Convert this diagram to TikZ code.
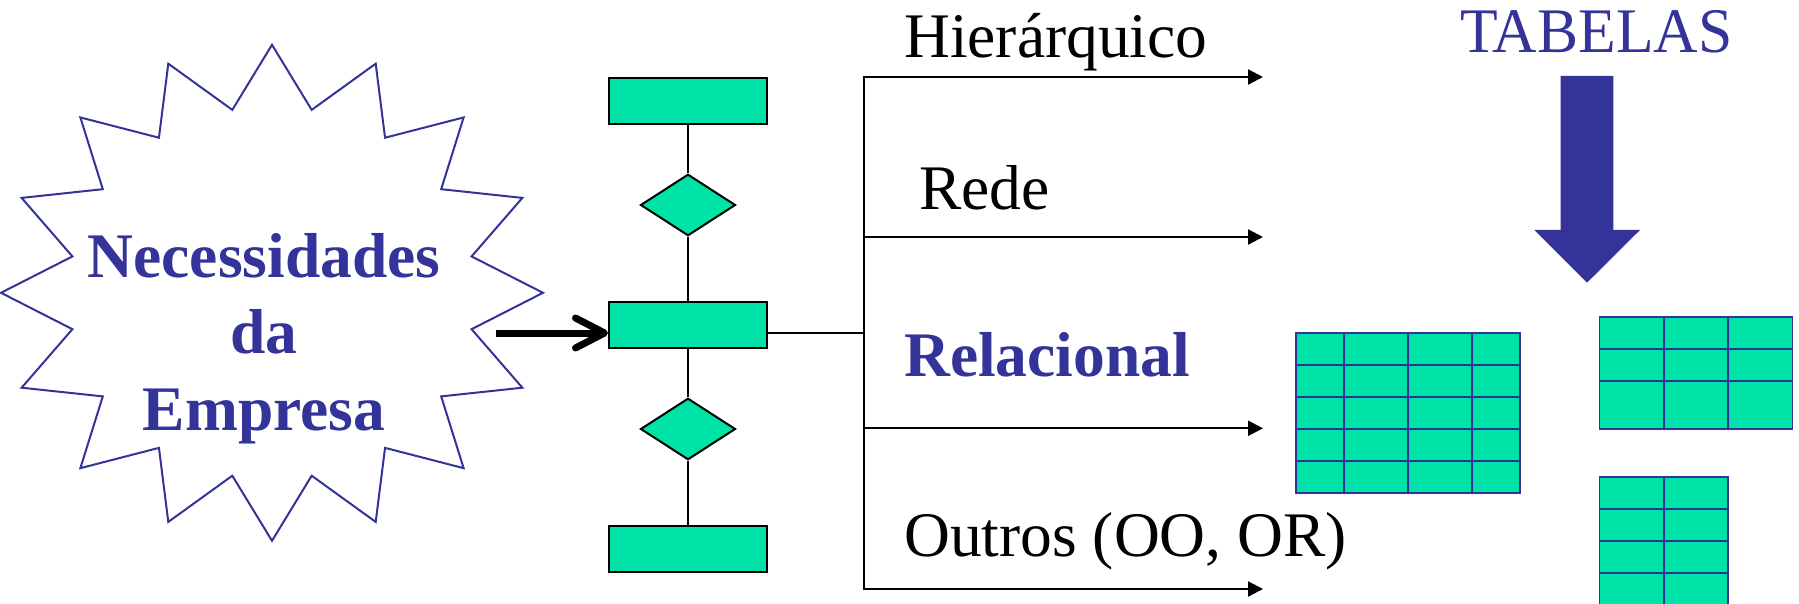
\documentclass[tikz,border=0pt]{standalone}
\usepackage{fontspec}
\setmainfont{Liberation Serif}
\usepackage{graphicx}
\usetikzlibrary{arrows.meta,shapes.geometric}
\definecolor{ergreen}{HTML}{00E3A8}
\definecolor{navy}{HTML}{333399}
\begin{document}
\begin{tikzpicture}[x=1pt,y=-1pt,
  txt/.style={inner sep=0pt, anchor=base west, font=\fontsize{63.5}{76}\selectfont},
  startxt/.style={inner sep=0pt, anchor=base, text=navy, font=\fontsize{63.5}{76}\selectfont\bfseries},
  entity/.style={draw=black, line width=2pt, fill=ergreen, minimum width=158pt, minimum height=46pt, inner sep=0pt},
  relation/.style={diamond, draw=black, line width=2pt, fill=ergreen, minimum width=95pt, minimum height=61.5pt, inner sep=0pt},
  link/.style={line width=2pt, draw=black},
  flow/.style={line width=2.2pt, draw=black, -{Triangle[length=15pt,width=15pt]}},
  feed/.style={line width=7pt, draw=black, -{Straight Barb[length=29pt,width=30pt,round]}},
  starline/.style={line width=2pt, draw=navy, line join=miter},
  tablecell/.style={fill=ergreen, draw=navy, line width=1.8pt},
  tablegrid/.style={draw=navy, line width=1.8pt}]
\useasboundingbox (0,0) rectangle (1799,604);

% starburst
\draw[starline] (272,44.8)
  \foreach \i in {1,...,31} { -- ({272+(237.25+33.75*cos(180*\i))*cos(90+11.25*\i)}, {292.8-(217.25+30.75*cos(180*\i))*sin(90+11.25*\i)}) } -- cycle;
\node[startxt] (nec) at (264,277.3) {Necessidades};
\node[startxt] (da) at (264,353.3) {da};
\node[startxt] (emp) at (264,430.7) {Empresa};

% ER diagram
\node[entity] (top) at (688,101) {};
\node[relation] (r1) at (688,205) {};
\node[entity] (mid) at (688,324.8) {};
\node[relation] (r2) at (688,429) {};
\node[entity] (bot) at (688,549) {};
\draw[link] (top.south) -- (r1.north);
\draw[link] (r1.south) -- (mid.north);
\draw[link] (mid.south) -- (r2.north);
\draw[link] (r2.south) -- (bot.north);

% input arrow
\coordinate (src) at (496,333);
\draw[feed] (src) -- (src -| mid.west);

% bus and branches
\coordinate (j) at (864,333);
\coordinate (b1) at (864,77);
\coordinate (b2) at (864,237);
\coordinate (b3) at (864,428.3);
\coordinate (b4) at (864,589);
\coordinate (e1) at (1263,77);
\coordinate (e2) at (1263,237);
\coordinate (e3) at (1263,428.3);
\coordinate (e4) at (1263,589);
\draw[link] (j -| mid.east) -- (j);
\draw[link, line cap=rect] (b1) -- (b4);
\draw[flow] (b1) -- (e1);
\draw[flow] (b2) -- (e2);
\draw[flow] (b3) -- (e3);
\draw[flow] (b4) -- (e4);

% labels
\node[txt] (hier) at (904,57.5) {Hierárquico};
\node[txt] (rede) at (919,209.5) {Rede};
\node[txt, text=navy, font=\fontsize{63.5}{76}\selectfont\bfseries] (rel) at (904,376) {Relacional};
\node[txt] (outros) at (904,556.7) {Outros (OO, OR)};
\node[txt, text=navy] (tab) at (1460,52.7) {\scalebox{0.97}[1]{TABELAS}};

% block arrow
\fill[navy] (1560.7,76) -- (1613.3,76) -- (1613.3,230) -- (1640,230) -- (1587,282.7) -- (1534.3,230) -- (1560.7,230) -- cycle;

% table 1
\filldraw[tablecell] (1296,333) rectangle (1520,493);
\foreach \x in {1344,1408,1472} \draw[tablegrid] (\x,333) -- (\x,493);
\foreach \y in {365,397,429,461} \draw[tablegrid] (1296,\y) -- (1520,\y);

% table 2
\filldraw[tablecell] (1599.5,317) rectangle (1792.5,429);
\foreach \x in {1664,1728} \draw[tablegrid] (\x,317) -- (\x,429);
\foreach \y in {349,381} \draw[tablegrid] (1599.5,\y) -- (1792.5,\y);

% table 3 (runs off the bottom edge)
\begin{scope}
\clip (0,0) rectangle (1799,604);
\filldraw[tablecell] (1599.5,477) rectangle (1728,640);
\draw[tablegrid] (1664,477) -- (1664,640);
\foreach \y in {509,541,573,605} \draw[tablegrid] (1599.5,\y) -- (1728,\y);
\end{scope}
\end{tikzpicture}
\end{document}
